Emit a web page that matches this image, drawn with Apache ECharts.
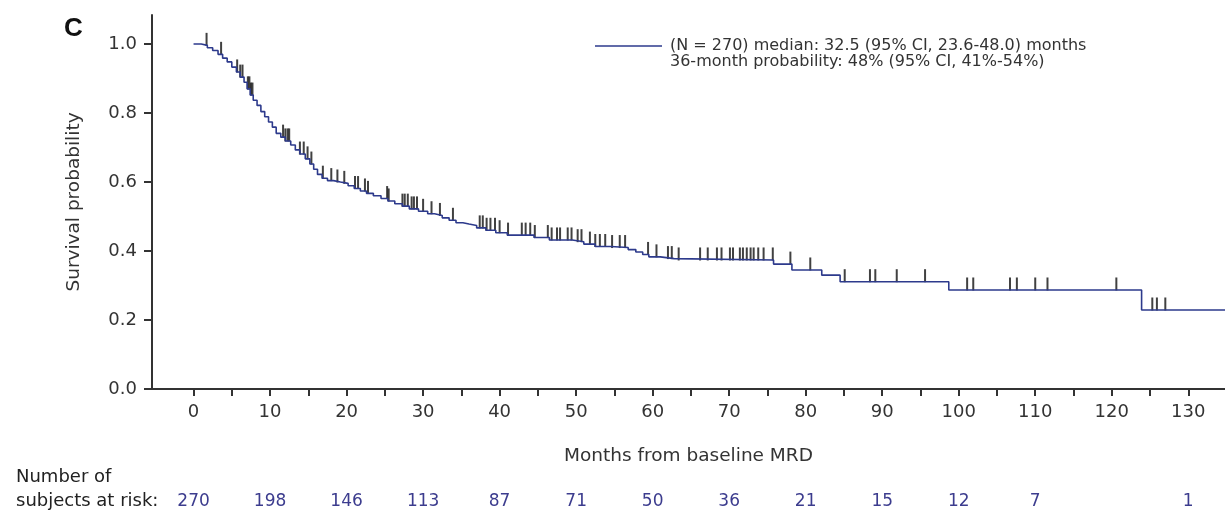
<!DOCTYPE html>
<html>
<head>
<meta charset="utf-8">
<script src="https://cdn.jsdelivr.net/npm/echarts@6/dist/echarts.min.js"></script>
<style>
html,body{margin:0;padding:0;background:#fff;}
#chart{width:1225px;height:513px;}
</style>
</head>
<body>
<div id="chart"></div>
<script>
// Kaplan-Meier step points: month at which survival drops to the given level
const kmMonths = [0, 1.0, 1.8, 2.5, 3.2, 3.8, 4.4, 5.0, 5.6, 6.1, 6.6, 7.0, 7.4, 7.8, 8.3, 8.8, 9.3, 9.8, 10.3, 10.8,
  11.4, 12.0, 12.7, 13.3, 13.9, 14.6, 15.2, 15.7, 16.2, 16.8, 17.5, 18.3, 19.2, 20.2, 21.0, 21.8, 22.6, 23.5, 24.5, 25.4,
  26.3, 27.3, 28.2, 29.4, 30.6, 31.5, 32.5, 33.4, 34.3, 35.2, 36.0, 37.0, 38.2, 39.5, 41.0, 44.5, 46.5, 49.5, 51.0, 52.5,
  54.5, 56.8, 57.8, 58.7, 59.5, 61.0, 62.8, 75.8, 78.2, 82.1, 84.5, 98.7, 123.9, 134.8];
const kmSurvival = [1.000, 0.996, 0.989, 0.981, 0.970, 0.959, 0.948, 0.933, 0.919, 0.904, 0.889, 0.870, 0.852, 0.837, 0.822, 0.804, 0.789, 0.774, 0.759, 0.741,
  0.730, 0.719, 0.707, 0.693, 0.681, 0.667, 0.652, 0.637, 0.622, 0.611, 0.604, 0.600, 0.596, 0.589, 0.581, 0.574, 0.567, 0.560, 0.552, 0.545,
  0.537, 0.530, 0.522, 0.515, 0.508, 0.503, 0.496, 0.489, 0.482, 0.478, 0.474, 0.467, 0.460, 0.453, 0.446, 0.439, 0.432, 0.427, 0.420, 0.413,
  0.410, 0.404, 0.397, 0.390, 0.383, 0.378, 0.374, 0.362, 0.345, 0.330, 0.311, 0.287, 0.229, 0.229];
// Censoring times (months)
const censorMonths = [1.7, 3.6, 5.7, 6.1, 6.4, 7.1, 7.3, 7.5, 7.7, 11.7, 12.0, 12.3, 12.5, 13.9, 14.4, 14.9, 15.4,
  16.9, 18.0, 18.8, 19.7, 21.1, 21.5, 22.4, 22.8, 25.3, 25.5, 27.3, 27.6, 28.0, 28.5, 28.8, 29.2, 30.0, 31.1, 32.2, 33.9,
  37.4, 37.8, 38.3, 38.8, 39.4, 40.0, 41.1, 42.9, 43.4, 44.0, 44.6, 46.3, 46.8, 47.5, 47.9, 48.9, 49.4, 50.2, 50.7,
  51.8, 52.5, 53.1, 53.8, 54.7, 55.7, 56.4, 59.4, 60.5, 62.0, 62.5, 63.4, 66.2, 67.2, 68.4, 69.0, 70.1, 70.5, 71.4, 71.8,
  72.3, 72.8, 73.2, 73.8, 74.5, 75.7, 78.0, 80.6, 85.1, 88.4, 89.1, 91.9, 95.6, 101.1, 101.9, 106.7, 107.6, 110.0, 111.6,
  120.6, 125.3, 125.9, 127.0];
const xTickLabels = [0, 10, 20, 30, 40, 50, 60, 70, 80, 90, 100, 110, 120, 130];
const xMinorTicks = [0, 5, 10, 15, 20, 25, 30, 35, 40, 45, 50, 55, 60, 65, 70, 75, 80, 85, 90, 95, 100, 105, 110, 115, 120, 125, 130];
const yTickLabels = [0, 0.2, 0.4, 0.6, 0.8, 1.0];
const riskMonths = [0, 10, 20, 30, 40, 50, 60, 70, 80, 90, 100, 110, 130];
const atRisk = [270, 198, 146, 113, 87, 71, 50, 36, 21, 15, 12, 7, 1];

const seriesName = '(N = 270) median: 32.5 (95% CI, 23.6-48.0) months';
const legendLine2 = '36-month probability: 48% (95% CI, 41%-54%)';

const curve = kmMonths.map((m, i) => [m, kmSurvival[i]]);
function survAt(t) {
  let s = kmSurvival[0];
  for (let i = 0; i < kmMonths.length; i++) { if (kmMonths[i] <= t) s = kmSurvival[i]; }
  return s;
}
const censors = censorMonths.map(t => [t, survAt(t)]);
const riskMap = {};
riskMonths.forEach((m, i) => { riskMap[m] = atRisk[i]; });

const FONT = 'DejaVu Sans';
const XMIN = -5.43, XMAX = 134.8;
const chart = echarts.init(document.getElementById('chart'), null, {renderer: 'canvas'});
chart.setOption({
  animation: false,
  backgroundColor: '#fff',
  grid: {left: 152, top: 15, width: 1073, height: 374, containLabel: false, outerBoundsMode: 'none'},
  legend: {
    data: [seriesName],
    left: 590, top: 33,
    icon: 'rect', itemWidth: 67, itemHeight: 1.6,
    textStyle: {fontFamily: FONT, fontSize: 16, color: '#333', padding: [0, 0, 0, 3]},
    selectedMode: false
  },
  graphic: [
    {type: 'text', left: 64, top: 16, style: {text: 'C', fontFamily: 'Liberation Sans', fontWeight: 'bold', fontSize: 26, fill: '#111'}},
    {type: 'text', left: 670, top: 54, style: {text: legendLine2, fontFamily: FONT, fontSize: 16, fill: '#333'}},
    {type: 'text', left: 16, top: 468, style: {text: 'Number of', fontFamily: FONT, fontSize: 18, fill: '#222'}},
    {type: 'text', left: 16, top: 492, style: {text: 'subjects at risk:', fontFamily: FONT, fontSize: 18, fill: '#222'}}
  ],
  xAxis: [
    {
      type: 'value', min: XMIN, max: XMAX,
      name: 'Months from baseline MRD', nameLocation: 'middle', nameGap: 58,
      nameTextStyle: {fontFamily: FONT, fontSize: 18.5, color: '#333'},
      axisLine: {show: true, onZero: false, lineStyle: {color: '#333', width: 2}},
      axisTick: {show: true, customValues: xMinorTicks, length: 7, lineStyle: {color: '#333', width: 2}},
      axisLabel: {customValues: xTickLabels, margin: 14, fontFamily: FONT, fontSize: 18, color: '#333'},
      splitLine: {show: false}
    },
    {
      type: 'value', min: XMIN, max: XMAX, position: 'bottom', offset: 100,
      axisLine: {show: false, onZero: false}, axisTick: {show: false}, splitLine: {show: false},
      axisLabel: {customValues: riskMonths, margin: 4, fontFamily: FONT, fontSize: 17, color: '#3c3c8e',
        formatter: v => (riskMap[v] !== undefined ? String(riskMap[v]) : '')}
    }
  ],
  yAxis: {
    type: 'value', min: 0, max: 1.084,
    name: 'Survival probability', nameLocation: 'middle', nameGap: 68, nameRotate: 90,
    nameTextStyle: {fontFamily: FONT, fontSize: 18.5, color: '#333'},
    axisLine: {show: true, onZero: false, lineStyle: {color: '#333', width: 2}},
    axisTick: {show: true, customValues: yTickLabels, length: 8, lineStyle: {color: '#333', width: 2}},
    axisLabel: {customValues: yTickLabels, margin: 15, fontFamily: FONT, fontSize: 18, color: '#333',
      formatter: v => v.toFixed(1)},
    splitLine: {show: false}
  },
  series: [
    {
      name: seriesName, type: 'line', step: 'end', data: curve, xAxisIndex: 0,
      showSymbol: false, symbol: 'none',
      lineStyle: {color: '#2d3a8c', width: 1.6},
      itemStyle: {color: '#2d3a8c'}
    },
    {
      name: 'censored', type: 'scatter', data: censors, xAxisIndex: 0,
      symbol: 'rect', symbolSize: [2, 13], symbolOffset: [0, -6],
      itemStyle: {color: '#111'}, silent: true
    }
  ]
});
</script>
</body>
</html>
